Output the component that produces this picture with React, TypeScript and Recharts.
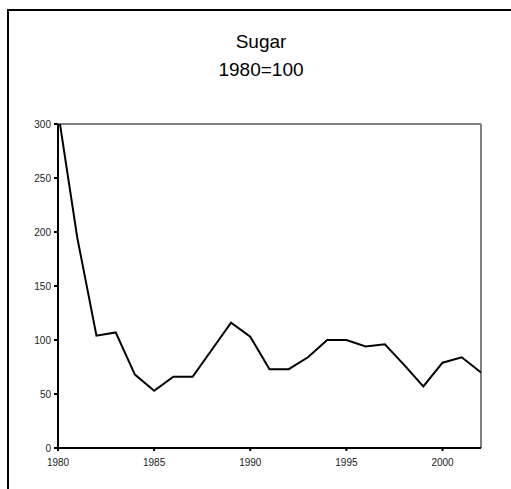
import React from "react";
import { LineChart, Line, XAxis, YAxis, ReferenceLine } from "recharts";

const years = [
  1980, 1981, 1982, 1983, 1984, 1985, 1986, 1987, 1988, 1989, 1990, 1991,
  1992, 1993, 1994, 1995, 1996, 1997, 1998, 1999, 2000, 2001, 2002,
];
const sugarIndex = [
  312, 195, 104, 107, 68, 53, 66, 66, 91, 116, 103, 73,
  73, 84, 100, 100, 94, 96, 77, 57, 79, 84, 70,
];
const xTicks = [1980, 1985, 1990, 1995, 2000];
const yTicks = [0, 50, 100, 150, 200, 250, 300];

const data = years.map((year, i) => ({ year, value: sugarIndex[i] }));

const tickStyle = { fill: "#222", fontSize: 10, fontFamily: "Liberation Sans, Arial, sans-serif" };
const titleStyle: React.CSSProperties = {
  position: "absolute",
  left: 0,
  width: 522,
  textAlign: "center",
  fontFamily: "Liberation Sans, Arial, sans-serif",
  fontSize: 19,
  lineHeight: "19px",
  color: "#000",
};

export default function App() {
  return (
    <div style={{ position: "absolute", left: 0, top: 0, width: 511, height: 489, background: "#fff", overflow: "hidden" }}>
      {/* outer frame, runs off the right and bottom edge */}
      <div
        style={{
          position: "absolute",
          left: 7,
          top: 9,
          width: 520,
          height: 500,
          borderLeft: "2px solid #000",
          borderTop: "2px solid #000",
        }}
      />
      <div style={{ ...titleStyle, top: 32 }}>Sugar</div>
      <div style={{ ...titleStyle, top: 60 }}>1980=100</div>
      <div style={{ position: "absolute", left: 0, top: 0 }}>
        <LineChart width={511} height={489} data={data} margin={{ top: 124, right: 30, bottom: 11, left: 18 }}>
          <XAxis
            dataKey="year"
            type="number"
            domain={[1980, 2002]}
            ticks={xTicks}
            allowDataOverflow
            height={30}
            stroke="#000"
            strokeWidth={2}
            tickSize={3}
            tickMargin={8}
            tick={tickStyle}
          />
          <YAxis
            type="number"
            domain={[0, 300]}
            ticks={yTicks}
            allowDataOverflow
            width={40}
            stroke="#000"
            strokeWidth={2}
            tickSize={4}
            tickMargin={3}
            tick={tickStyle}
          />
          <ReferenceLine y={300} stroke="#808080" strokeWidth={2} />
          <ReferenceLine x={2002} stroke="#808080" strokeWidth={2} />
          <Line
            type="linear"
            dataKey="value"
            stroke="#000"
            strokeWidth={2}
            dot={false}
            isAnimationActive={false}
          />
        </LineChart>
      </div>
    </div>
  );
}
